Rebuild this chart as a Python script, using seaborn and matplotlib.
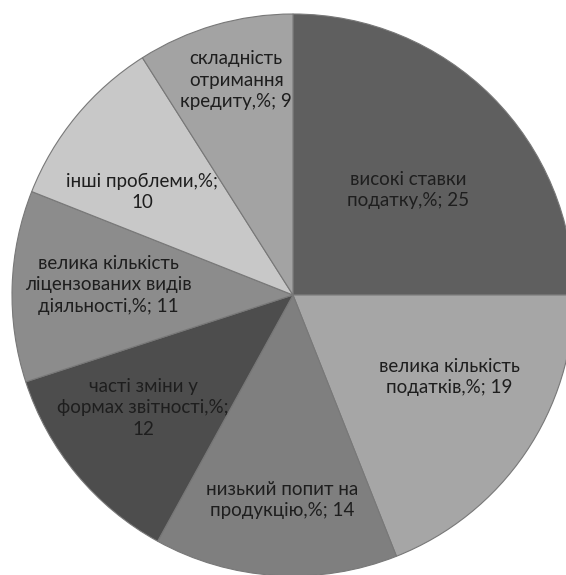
import numpy as np
import matplotlib
matplotlib.use("Agg")
import matplotlib.pyplot as plt
import seaborn as sns

categories = [
    "високі ставки\nподатку,%",
    "велика кількість\nподатків,%",
    "низький попит на\nпродукцію,%",
    "часті зміни у\nформах звітності,%",
    "велика кількість\nліцензованих видів\nдіяльності,%",
    "інші проблеми,%",
    "складність\nотримання\nкредиту,%",
]
values = [25, 19, 14, 12, 11, 10, 9]

colors = ["#5f5f5f", "#a6a6a6", "#7f7f7f", "#4d4d4d", "#8c8c8c", "#c8c8c8", "#a3a3a3"]
value_sep = ["; ", "; ", "; ", ";\n", "; ", ";\n", "; "]
label_r = [0.554, 0.627, 0.731, 0.668, 0.659, 0.650, 0.791]
label_dang = [-2.6, 6.5, 0.5, -2.6, -1.3, 5.3, -1.4]

sns.set_theme(style="white")
plt.rcParams["font.family"] = ["Lato", "DejaVu Sans"]

fig = plt.figure(figsize=(5.66, 5.75), dpi=100)
ax = fig.add_axes([12 / 566, 1 - 576 / 575, 562 / 566, 562 / 575])

wedges, _ = ax.pie(values, colors=colors, startangle=90, counterclock=False,
                   wedgeprops=dict(edgecolor="#787878", linewidth=0.8))

for w, cat, v, sep, r, da in zip(wedges, categories, values, value_sep, label_r, label_dang):
    mid = np.deg2rad((w.theta1 + w.theta2) / 2 + da)
    txt = f"{cat}{sep}{v}"
    ax.text(r * np.cos(mid), r * np.sin(mid), txt, ha="center", va="center",
            multialignment="center", fontsize=13.5, color="#1e1e1e", linespacing=1.3)

ax.set_xlim(-1, 1)
ax.set_ylim(-1, 1)
ax.set_aspect("auto")
ax.axis("off")
fig.savefig("out.png", dpi=100)
